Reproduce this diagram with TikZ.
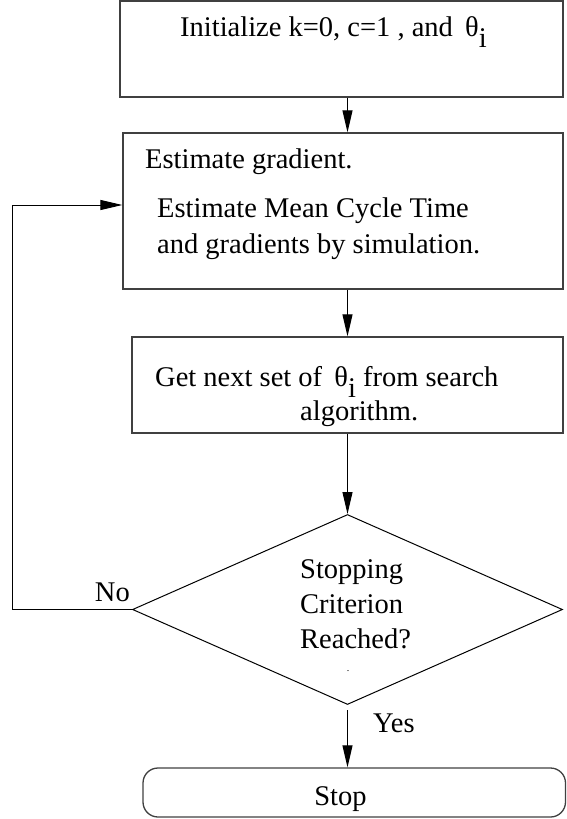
\documentclass[tikz,border=0pt]{standalone}
\usepackage{fontspec}
\setmainfont{Liberation Serif}
\usetikzlibrary{shapes.geometric,arrows.meta}
% theta with a lowered index i
\newcommand{\thetaidx}{θ\raisebox{-0.42em}{i}}
\begin{document}
\begin{tikzpicture}[x=1pt,y=-1pt,
  font=\fontsize{28.5}{35}\selectfont,
  procbox/.style={draw=black!75,line width=1.3pt,rectangle,inner sep=0pt},
  decbox/.style={draw=black,line width=1pt,diamond,inner sep=0pt},
  endbox/.style={draw=black!75,line width=1.3pt,rectangle,rounded corners=15pt,inner sep=0pt},
  txt/.style={anchor=base west,inner sep=0pt},
  lbl/.style={inner sep=0pt},
  arr/.style={line width=1pt,-{Triangle[length=22pt,width=10pt]}},
  flow/.style={line width=1pt}]
\useasboundingbox (0,0) rectangle (566,819);

% process boxes
\node[procbox,minimum width=443pt,minimum height=96pt] (init) at (341.5,49) {};
\node[procbox,minimum width=440pt,minimum height=156pt] (grad) at (343,211) {};
\node[procbox,minimum width=431pt,minimum height=96pt] (next) at (347.5,385) {};

% decision
\node[decbox,minimum width=430pt,minimum height=190pt] (stopq) at (347.5,609.5) {};

% terminal
\node[endbox,minimum width=422.5pt,minimum height=49pt] (stop) at (354.25,792.5) {};

% box texts
\node[txt] (t1) at (180,36) {Initialize k=0, c=1 , and\hspace{0.43em}\thetaidx};
\node[txt] (t2a) at (145,168) {Estimate gradient.};
\node[txt] (t2b) at (157,217) {Estimate Mean Cycle Time};
\node[txt] (t2c) at (157,253) {and gradients by simulation.};
\node[txt] (t3a) at (155,386) {Get next set of\hspace{0.43em}\thetaidx{} from search};
\node[txt] (t3b) at (300,420) {algorithm.};
\node[txt] (t4a) at (300,578) {Stopping};
\node[txt] (t4b) at (300,613) {Criterion};
\node[txt] (t4c) at (300,648) {Reached?};
\node[lbl,font=\fontsize{10}{12}\selectfont] (t4d) at (348,671) {.};
\node[lbl,anchor=base] (t5) at (340.5,805) {Stop};

% branch labels
\node[lbl,anchor=base east] (no) at (130,601) {No};
\node[lbl,anchor=base west] (yes) at (373,732) {Yes};

% connectors
\draw[arr] (stopq.north |- init.south) -- (stopq.north |- grad.north);
\draw[arr] (stopq.north |- grad.south) -- (stopq.north |- next.north);
\draw[arr] (stopq.north |- next.south) -- (stopq.north);
\coordinate (ystart) at ([yshift=-5pt]stopq.south);
\draw[arr] (ystart) -- (ystart |- stop.north);
\coordinate (loop) at (12,205);
\draw[arr] (stopq.west) -| (loop) -- (loop -| grad.west);
\end{tikzpicture}
\end{document}
